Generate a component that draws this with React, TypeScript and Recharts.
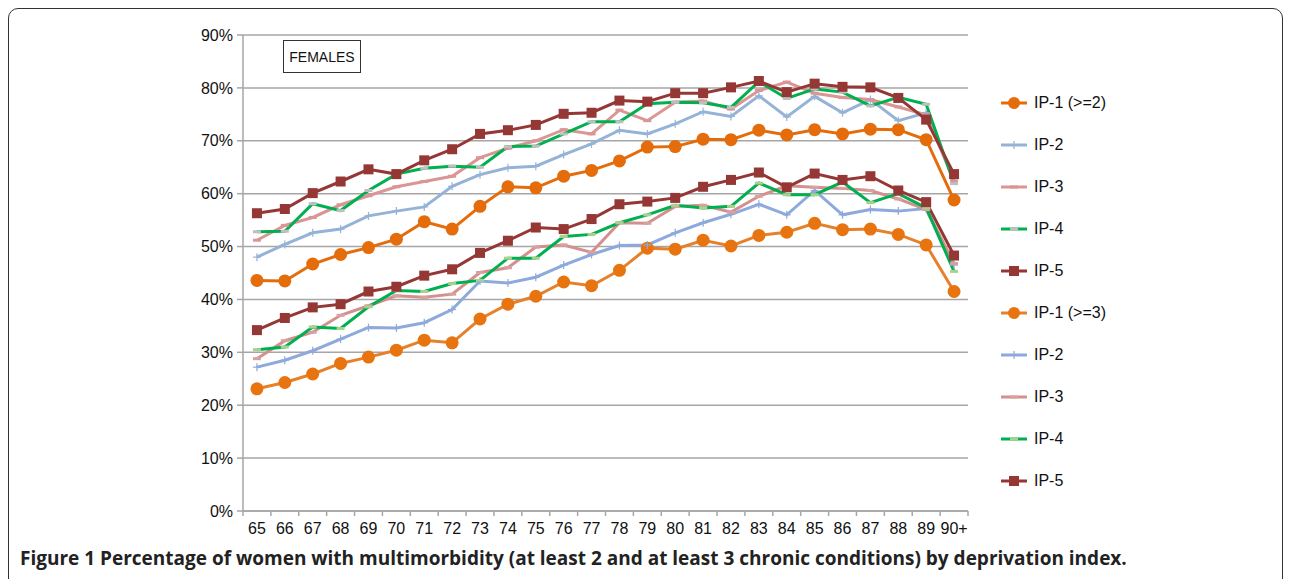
import React from 'react';
import { LineChart, Line, XAxis, YAxis, CartesianGrid } from 'recharts';

const AGES = ['65', '66', '67', '68', '69', '70', '71', '72', '73', '74', '75', '76', '77', '78', '79', '80', '81', '82', '83', '84', '85', '86', '87', '88', '89', '90+'];
const Y_TICKS = [0, 10, 20, 30, 40, 50, 60, 70, 80, 90];

// at least 2 chronic conditions
const IP1_2 = [43.6, 43.5, 46.7, 48.5, 49.8, 51.4, 54.7, 53.3, 57.6, 61.3, 61.1, 63.3, 64.4, 66.2, 68.8, 68.9, 70.3, 70.2, 72.0, 71.1, 72.1, 71.3, 72.2, 72.1, 70.2, 58.8];
const IP2_2 = [48.0, 50.4, 52.6, 53.3, 55.8, 56.7, 57.5, 61.4, 63.6, 64.9, 65.2, 67.4, 69.4, 72.0, 71.3, 73.2, 75.5, 74.6, 78.5, 74.5, 78.4, 75.3, 77.8, 73.8, 75.3, 62.5];
const IP3_2 = [51.2, 54.0, 55.5, 57.9, 59.6, 61.3, 62.3, 63.3, 66.8, 68.6, 70.0, 72.1, 71.3, 75.8, 73.8, 77.3, 77.5, 76.0, 79.5, 81.1, 79.0, 78.2, 77.8, 76.4, 74.9, 62.4];
const IP4_2 = [52.8, 52.9, 58.1, 56.8, 60.6, 63.7, 64.8, 65.2, 65.0, 68.9, 69.0, 71.3, 73.6, 73.6, 77.0, 77.3, 77.2, 76.3, 81.2, 78.0, 79.8, 79.2, 76.6, 78.2, 76.9, 61.9];
const IP5_2 = [56.3, 57.1, 60.1, 62.3, 64.6, 63.7, 66.3, 68.4, 71.3, 72.0, 73.0, 75.1, 75.3, 77.6, 77.4, 79.0, 79.0, 80.1, 81.3, 79.2, 80.8, 80.2, 80.1, 78.1, 74.0, 63.7];

// at least 3 chronic conditions
const IP1_3 = [23.1, 24.3, 25.9, 27.9, 29.1, 30.4, 32.3, 31.8, 36.3, 39.1, 40.6, 43.3, 42.6, 45.5, 49.7, 49.5, 51.2, 50.1, 52.1, 52.7, 54.4, 53.2, 53.3, 52.3, 50.3, 41.5];
const IP2_3 = [27.2, 28.5, 30.3, 32.5, 34.7, 34.6, 35.6, 38.1, 43.5, 43.1, 44.2, 46.5, 48.5, 50.2, 50.3, 52.6, 54.5, 56.1, 58.0, 56.0, 60.6, 56.0, 57.0, 56.7, 57.2, 46.5];
const IP3_3 = [28.8, 32.2, 33.8, 37.0, 38.8, 40.7, 40.4, 41.0, 45.1, 46.0, 49.9, 50.3, 48.9, 54.5, 54.4, 57.6, 57.8, 56.5, 59.5, 61.5, 61.2, 61.0, 60.6, 59.0, 57.0, 46.8];
const IP4_3 = [30.5, 31.0, 34.8, 34.5, 38.6, 41.7, 41.5, 43.0, 43.6, 47.8, 47.8, 51.9, 52.3, 54.5, 56.0, 57.8, 57.3, 57.6, 62.0, 59.8, 59.8, 62.2, 58.3, 60.0, 57.3, 45.3];
const IP5_3 = [34.2, 36.5, 38.5, 39.1, 41.5, 42.4, 44.5, 45.7, 48.8, 51.1, 53.6, 53.3, 55.2, 58.0, 58.5, 59.2, 61.3, 62.6, 64.0, 61.2, 63.8, 62.6, 63.3, 60.6, 58.4, 48.3];

type Marker = 'circle' | 'plus' | 'dash' | 'square';

const SERIES: { key: string; name: string; values: number[]; color: string; markColor: string; marker: Marker }[] = [
  { key: 'a1', name: 'IP-1 (>=2)', values: IP1_2, color: '#E46C0A', markColor: '#E46C0A', marker: 'circle' },
  { key: 'a2', name: 'IP-2', values: IP2_2, color: '#95B3D7', markColor: '#95B3D7', marker: 'plus' },
  { key: 'a3', name: 'IP-3', values: IP3_2, color: '#D99694', markColor: '#D99694', marker: 'dash' },
  { key: 'a4', name: 'IP-4', values: IP4_2, color: '#00B050', markColor: '#BFBFBF', marker: 'dash' },
  { key: 'a5', name: 'IP-5', values: IP5_2, color: '#953735', markColor: '#953735', marker: 'square' },
  { key: 'b1', name: 'IP-1 (>=3)', values: IP1_3, color: '#E7802A', markColor: '#E8740F', marker: 'circle' },
  { key: 'b2', name: 'IP-2', values: IP2_3, color: '#8EA9DB', markColor: '#8EA9DB', marker: 'plus' },
  { key: 'b3', name: 'IP-3', values: IP3_3, color: '#D4908F', markColor: '#D9A0A0', marker: 'dash' },
  { key: 'b4', name: 'IP-4', values: IP4_3, color: '#00B050', markColor: '#A9D18E', marker: 'dash' },
  { key: 'b5', name: 'IP-5', values: IP5_3, color: '#953735', markColor: '#953735', marker: 'square' },
];

const data = AGES.map((age, i) => {
  const row: Record<string, number | string> = { age, pos: i + 0.5 };
  SERIES.forEach(s => { row[s.key] = s.values[i]; });
  return row;
});

const FONT = '"Liberation Sans", Arial, sans-serif';
const W = 1292;
const H = 579;
const PLOT_LEFT = 243;
const PLOT_RIGHT = 968;
const STEP = (PLOT_RIGHT - PLOT_LEFT) / AGES.length;

function drawMarker(marker: Marker, color: string, cx: number, cy: number, big = true) {
  if (marker === 'circle') return <circle cx={cx} cy={cy} r={big ? 6.5 : 6} fill={color} />;
  if (marker === 'square') return <rect x={cx - 5} y={cy - 5} width={10} height={10} fill={color} />;
  if (marker === 'plus') {
    return (
      <g stroke={color} strokeWidth={1.2}>
        <line x1={cx - 4} y1={cy} x2={cx + 4} y2={cy} />
        <line x1={cx} y1={cy - 4} x2={cx} y2={cy + 4} />
      </g>
    );
  }
  return <line x1={cx - 4} y1={cy} x2={cx + 4} y2={cy} stroke={color} strokeWidth={3} />;
}

const makeDot = (marker: Marker, color: string) => (props: any) => {
  const { cx, cy, key } = props;
  if (cx == null || cy == null) return <g key={key} />;
  return <g key={key}>{drawMarker(marker, color, cx, cy)}</g>;
};

const XTick = (props: any) => {
  const { x, y, payload } = props;
  const i = payload.value as number;
  return (
    <g>
      <line x1={x} y1={y - 8} x2={x} y2={y - 3} stroke="#A6A6A6" strokeWidth={1.5} />
      {i < AGES.length && (
        <text x={x + STEP / 2} y={y + 15} textAnchor="middle" fontSize={16} fontFamily={FONT} fill="#111">
          {AGES[i]}
        </text>
      )}
    </g>
  );
};

const LegendList = () => (
  <div style={{ position: 'absolute', left: 1000, top: 82, fontFamily: FONT, fontSize: 16, color: '#111' }}>
    {SERIES.map(s => (
      <div key={s.key} style={{ display: 'flex', alignItems: 'center', height: 42 }}>
        <svg width={30} height={14} style={{ marginRight: 4 }}>
          <line x1={1} y1={7} x2={27} y2={7} stroke={s.color} strokeWidth={3} />
          {drawMarker(s.marker, s.markColor, 14, 7, false)}
        </svg>
        <span>{s.name}</span>
      </div>
    ))}
  </div>
);

export default function App() {
  return (
    <div style={{ position: 'absolute', left: 0, top: 0, width: W, height: H, background: '#fff', overflow: 'hidden' }}>
      <div
        style={{
          position: 'absolute', left: 8, top: 8, width: 1275, height: 600,
          border: '1.5px solid #333', borderRadius: 10, boxSizing: 'border-box',
        }}
      />
      <div style={{ position: 'absolute', left: 0, top: 0 }}>
        <LineChart
          width={W}
          height={H}
          data={data}
          margin={{ top: 35, right: W - PLOT_RIGHT, bottom: 38, left: PLOT_LEFT - 60 }}
        >
          <CartesianGrid horizontal vertical={false} stroke="#A6A6A6" strokeWidth={1.5} />
          <XAxis
            dataKey="pos"
            type="number"
            domain={[0, AGES.length]}
            ticks={AGES.map((_, i) => i).concat([AGES.length])}
            interval={0}
            height={30}
            tickLine={false}
            tick={<XTick />}
            stroke="#A6A6A6"
            strokeWidth={1.5}
          />
          <YAxis
            domain={[0, 90]}
            ticks={Y_TICKS}
            width={60}
            tickFormatter={(v: number) => `${v}%`}
            tick={{ fontSize: 16, fontFamily: FONT, fill: '#111' }}
            tickSize={6}
            tickMargin={4}
            stroke="#A6A6A6"
            strokeWidth={1.5}
          />
          {SERIES.map(s => (
            <Line
              key={s.key}
              dataKey={s.key}
              name={s.name}
              stroke={s.color}
              strokeWidth={3}
              dot={makeDot(s.marker, s.markColor)}
              activeDot={false}
              isAnimationActive={false}
            />
          ))}
        </LineChart>
      </div>
      <LegendList />
      <div
        style={{
          position: 'absolute', left: 283, top: 40, width: 78, height: 33, boxSizing: 'border-box',
          border: '1.5px solid #333', fontFamily: FONT, fontSize: 14, color: '#111',
          display: 'flex', alignItems: 'center', justifyContent: 'center',
        }}
      >
        FEMALES
      </div>
      <div
        style={{
          position: 'absolute', left: 20, top: 545, fontFamily: '"Open Sans", sans-serif', fontWeight: 700,
          fontSize: 19, color: '#222', whiteSpace: 'nowrap',
        }}
      >
        Figure 1 Percentage of women with multimorbidity (at least 2 and at least 3 chronic conditions) by deprivation index.
      </div>
    </div>
  );
}
